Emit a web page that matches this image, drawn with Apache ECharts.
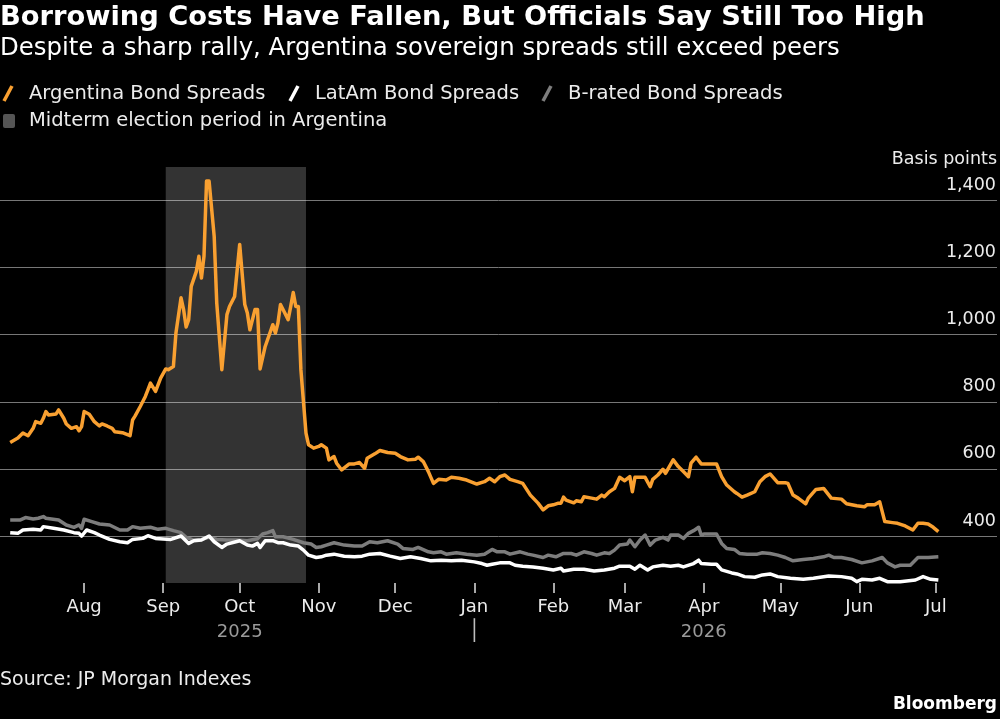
<!DOCTYPE html>
<html><head><meta charset="utf-8">
<script src="https://cdn.jsdelivr.net/npm/echarts@6/dist/echarts.min.js"></script>
<style>html,body{margin:0;padding:0;background:#000}#c{width:1000px;height:719px}</style>
</head><body><div id="c"></div>
<script>
// ---- data ----
const argDates = ['2025-07-03','2025-07-06','2025-07-08','2025-07-10','2025-07-12','2025-07-13','2025-07-15','2025-07-16','2025-07-17','2025-07-18','2025-07-21','2025-07-22','2025-07-24','2025-07-25','2025-07-27','2025-07-29','2025-07-30','2025-07-31',
'2025-08-01','2025-08-03','2025-08-05','2025-08-07','2025-08-08','2025-08-10','2025-08-12','2025-08-13','2025-08-16','2025-08-19','2025-08-20','2025-08-21','2025-08-23','2025-08-25','2025-08-26','2025-08-27','2025-08-29','2025-08-31',
'2025-09-02','2025-09-03','2025-09-05','2025-09-06','2025-09-08','2025-09-09','2025-09-10','2025-09-11','2025-09-12','2025-09-14','2025-09-15','2025-09-16','2025-09-17','2025-09-18','2025-09-19','2025-09-21','2025-09-22','2025-09-24','2025-09-26','2025-09-27','2025-09-29',
'2025-10-01','2025-10-03','2025-10-04','2025-10-05','2025-10-07','2025-10-08','2025-10-09','2025-10-11','2025-10-14','2025-10-15','2025-10-16','2025-10-17','2025-10-18','2025-10-20','2025-10-21','2025-10-22','2025-10-23','2025-10-24','2025-10-25','2025-10-27','2025-10-28','2025-10-30',
'2025-11-01','2025-11-02','2025-11-04','2025-11-05','2025-11-07','2025-11-08','2025-11-10','2025-11-13','2025-11-15','2025-11-17','2025-11-19','2025-11-20','2025-11-23','2025-11-25','2025-11-28',
'2025-12-01','2025-12-03','2025-12-06','2025-12-09','2025-12-10','2025-12-12','2025-12-14','2025-12-16','2025-12-18','2025-12-21','2025-12-23','2025-12-26','2025-12-29',
'2026-01-02','2026-01-05','2026-01-07','2026-01-09','2026-01-11','2026-01-13','2026-01-15','2026-01-18','2026-01-20','2026-01-23','2026-01-26','2026-01-28','2026-01-30',
'2026-02-01','2026-02-03','2026-02-04','2026-02-05','2026-02-06','2026-02-09','2026-02-10','2026-02-12','2026-02-13','2026-02-16','2026-02-18','2026-02-20','2026-02-21','2026-02-23','2026-02-25','2026-02-27',
'2026-03-01','2026-03-03','2026-03-04','2026-03-05','2026-03-07','2026-03-09','2026-03-11','2026-03-12','2026-03-14','2026-03-16','2026-03-17','2026-03-20','2026-03-22','2026-03-24','2026-03-26','2026-03-27','2026-03-29','2026-03-31',
'2026-04-01','2026-04-06','2026-04-08','2026-04-10','2026-04-13','2026-04-14','2026-04-16','2026-04-18','2026-04-21','2026-04-23','2026-04-25','2026-04-27','2026-04-30',
'2026-05-03','2026-05-04','2026-05-06','2026-05-08','2026-05-11','2026-05-12','2026-05-15','2026-05-18','2026-05-21','2026-05-25','2026-05-27','2026-05-31',
'2026-06-03','2026-06-04','2026-06-07','2026-06-09','2026-06-11','2026-06-14','2026-06-16','2026-06-19','2026-06-22','2026-06-24','2026-06-26','2026-06-28','2026-06-30','2026-07-02'];
const argValues = [679,692,707,699,721,741,736,751,771,761,764,776,751,734,721,726,714,726,
771,763,741,728,734,728,721,711,708,699,746,758,786,816,836,856,831,871,
898,896,905,1005,1110,1075,1023,1045,1144,1189,1234,1169,1234,1458,1458,1293,1095,896,1060,1084,1114,
1269,1090,1065,1015,1075,1075,898,965,1030,1005,1035,1090,1075,1045,1084,1126,1084,1084,896,707,672,662,
667,672,662,627,637,617,597,615,615,619,602,632,645,655,649,
647,637,627,629,635,622,592,557,569,567,575,572,567,
555,562,572,562,577,582,569,562,557,522,498,478,490,
493,498,498,516,507,499,505,502,517,513,510,522,517,532,542,575,
565,577,532,575,575,575,547,569,582,599,587,627,607,592,577,617,635,615,
615,615,577,552,532,527,516,522,532,562,577,585,559,
559,557,522,513,496,513,539,542,513,510,496,490,
487,493,493,502,443,440,438,430,418,438,438,436,426,413];

const latamDates = ['2025-07-03','2025-07-06','2025-07-08','2025-07-12','2025-07-15','2025-07-16','2025-07-20','2025-07-24','2025-07-28','2025-07-30','2025-07-31',
'2025-08-02','2025-08-05','2025-08-07','2025-08-11','2025-08-15','2025-08-18','2025-08-20','2025-08-24','2025-08-26','2025-08-29',
'2025-09-04','2025-09-08','2025-09-11','2025-09-13','2025-09-16','2025-09-19','2025-09-21','2025-09-24','2025-09-26',
'2025-10-01','2025-10-04','2025-10-06','2025-10-08','2025-10-09','2025-10-11','2025-10-14','2025-10-16','2025-10-18','2025-10-21','2025-10-24','2025-10-26','2025-10-28','2025-10-31',
'2025-11-02','2025-11-04','2025-11-07','2025-11-11','2025-11-15','2025-11-18','2025-11-21','2025-11-25','2025-11-29',
'2025-12-03','2025-12-07','2025-12-11','2025-12-15','2025-12-19','2025-12-23','2025-12-27',
'2026-01-01','2026-01-04','2026-01-06','2026-01-08','2026-01-11','2026-01-15','2026-01-17','2026-01-20','2026-01-24','2026-01-28',
'2026-02-01','2026-02-04','2026-02-05','2026-02-09','2026-02-13','2026-02-17','2026-02-21','2026-02-25','2026-02-27',
'2026-03-03','2026-03-05','2026-03-07','2026-03-10','2026-03-12','2026-03-16','2026-03-19','2026-03-22','2026-03-24','2026-03-28','2026-03-30','2026-03-31',
'2026-04-04','2026-04-06','2026-04-08','2026-04-12','2026-04-14','2026-04-17','2026-04-21','2026-04-24','2026-04-27','2026-04-30',
'2026-05-05','2026-05-10','2026-05-14','2026-05-20','2026-05-25','2026-05-29','2026-05-31',
'2026-06-02','2026-06-06','2026-06-09','2026-06-12','2026-06-17','2026-06-23','2026-06-26','2026-06-29','2026-07-02'];
const latamValues = [410,408,418,420,418,428,423,418,410,408,400,
418,410,403,390,383,380,390,393,401,393,
390,400,378,386,388,400,383,366,376,
386,373,370,378,366,386,386,380,380,373,370,358,343,336,
338,343,346,340,338,340,346,348,340,
333,338,333,326,328,326,328,
323,318,313,316,320,320,313,310,308,304,
299,304,296,301,301,296,299,304,310,
310,301,313,299,308,313,310,313,308,318,328,318,
316,316,299,290,287,279,277,284,287,279,
274,271,274,281,279,274,264,
271,269,274,264,264,269,279,271,269];

const bDates = ['2025-07-03','2025-07-07','2025-07-09','2025-07-12','2025-07-14','2025-07-16','2025-07-17','2025-07-22','2025-07-25','2025-07-28','2025-07-30','2025-07-31',
'2025-08-01','2025-08-04','2025-08-07','2025-08-11','2025-08-15','2025-08-18','2025-08-20','2025-08-23','2025-08-27','2025-08-30',
'2025-09-02','2025-09-05','2025-09-08','2025-09-10','2025-09-13','2025-09-16','2025-09-19','2025-09-22','2025-09-26','2025-09-30',
'2025-10-04','2025-10-08','2025-10-10','2025-10-12','2025-10-14','2025-10-15','2025-10-18','2025-10-22','2025-10-26','2025-10-29','2025-10-31',
'2025-11-02','2025-11-04','2025-11-07','2025-11-11','2025-11-15','2025-11-18','2025-11-21','2025-11-24','2025-11-28',
'2025-12-02','2025-12-04','2025-12-08','2025-12-10','2025-12-14','2025-12-16','2025-12-19','2025-12-21','2025-12-25','2025-12-29',
'2026-01-02','2026-01-05','2026-01-08','2026-01-10','2026-01-13','2026-01-15','2026-01-19','2026-01-22','2026-01-24','2026-01-28','2026-01-30',
'2026-02-02','2026-02-05','2026-02-08','2026-02-10','2026-02-13','2026-02-16','2026-02-18','2026-02-21','2026-02-23','2026-02-25','2026-02-27',
'2026-03-02','2026-03-03','2026-03-05','2026-03-07','2026-03-09','2026-03-11','2026-03-13','2026-03-16','2026-03-18','2026-03-19','2026-03-22','2026-03-24','2026-03-26','2026-03-28','2026-03-30','2026-03-31',
'2026-04-01','2026-04-06','2026-04-08','2026-04-10','2026-04-13','2026-04-15','2026-04-18','2026-04-22','2026-04-24','2026-04-27','2026-04-30',
'2026-05-03','2026-05-06','2026-05-10','2026-05-14','2026-05-18','2026-05-20','2026-05-22','2026-05-25','2026-05-29',
'2026-06-02','2026-06-06','2026-06-10','2026-06-12','2026-06-15','2026-06-17','2026-06-21','2026-06-24','2026-06-28','2026-07-02'];
const bValues = [448,448,455,451,453,458,453,448,433,426,433,423,
450,443,436,433,418,418,428,423,426,420,
423,416,410,396,388,390,396,390,388,388,
386,392,406,410,416,398,398,390,380,376,366,
368,373,380,373,370,370,383,380,386,
376,363,360,366,353,350,353,346,350,346,
343,346,360,353,353,346,353,346,343,336,343,
338,348,348,343,353,348,343,350,348,358,373,
376,388,368,388,403,373,388,396,388,403,403,393,408,416,426,403,
406,406,378,363,360,348,346,346,350,348,343,
336,326,330,333,338,343,336,336,330,
320,326,336,320,308,313,313,336,336,338];

const electionPeriod = ['2025-09-02', '2025-10-27'];
const monthTicks = ['2025-08-01','2025-09-01','2025-10-01','2025-11-01','2025-12-01','2026-01-01','2026-02-01','2026-03-01','2026-04-01','2026-05-01','2026-06-01','2026-07-01'];
const monthNames = ['Jan','Feb','Mar','Apr','May','Jun','Jul','Aug','Sep','Oct','Nov','Dec'];
const yTicks = [400, 600, 800, 1000, 1200, 1400];
const seriesNames = ['Argentina Bond Spreads', 'LatAm Bond Spreads', 'B-rated Bond Spreads'];
const shadeName = 'Midterm election period in Argentina';

// ---- chart ----
const FONT = 'DejaVu Sans';
const ORANGE = '#f9a031', WHITE = '#ffffff', GRAY = '#7d7d7d';
const pd = s => echarts.number.parseDate(s).getTime();
const zip = (d, v) => d.map((x, i) => [pd(x), v[i]]);
const monthTickVals = monthTicks.map(pd);

const chart = echarts.init(document.getElementById('c'), null, {renderer: 'canvas'});
chart.setOption({
  backgroundColor: '#000',
  animation: false,
  grid: {left: 0, right: 3, top: 167, bottom: 136, containLabel: false},
  xAxis: {
    type: 'value',
    min: pd('2025-06-29'), max: pd('2026-07-25'),
    axisLine: {show: false},
    splitLine: {show: false},
    axisTick: {show: true, customValues: monthTickVals, length: 10, lineStyle: {color: '#e0e0e0', width: 1.5}},
    axisLabel: {
      customValues: monthTickVals,
      margin: 12,
      formatter: function (v) {
        const d = new Date(v);
        const m = monthNames[d.getMonth()];
        if (m === 'Oct') return '{m|Oct}\n{y|2025}';
        if (m === 'Apr') return '{m|Apr}\n{y|2026}';
        if (m === 'Jan') return '{m|Jan}\n{s|\u2502}';
        return '{m|' + m + '}';
      },
      rich: {
        m: {color: '#ececec', fontSize: 18, fontFamily: FONT, lineHeight: 24},
        y: {color: '#9a9a9a', fontSize: 18, fontFamily: FONT, lineHeight: 26},
        s: {color: '#bdbdbd', fontSize: 20, fontFamily: FONT, lineHeight: 26}
      }
    }
  },
  yAxis: {
    type: 'value',
    position: 'right',
    min: 260, max: 1500,
    name: 'Basis points',
    nameLocation: 'end',
    nameGap: 8,
    nameTextStyle: {color: '#ececec', fontSize: 17.5, fontFamily: FONT, align: 'right', verticalAlign: 'middle'},
    axisLine: {show: false},
    axisTick: {show: false, customValues: yTicks},
    axisLabel: {
      customValues: yTicks,
      inside: true,
      margin: 1,
      color: '#ececec', fontSize: 17.5, fontFamily: FONT,
      verticalAlign: 'bottom',
      padding: [0, 0, 6, 0],
      formatter: v => v.toLocaleString('en-US')
    },
    splitLine: {show: true, lineStyle: {color: '#777', width: 1}}
  },
  series: [
    {
      name: seriesNames[2], type: 'line', data: zip(bDates, bValues), showSymbol: false, z: 2,
      lineStyle: {color: GRAY, width: 3.5, join: 'round'},
      markArea: {
        silent: true,
        itemStyle: {color: 'rgba(255,255,255,0.2)'},
        data: [[{xAxis: pd(electionPeriod[0])}, {xAxis: pd(electionPeriod[1])}]]
      }
    },
    {name: seriesNames[1], type: 'line', data: zip(latamDates, latamValues), showSymbol: false, z: 3,
      lineStyle: {color: WHITE, width: 3.5, join: 'round'}},
    {name: seriesNames[0], type: 'line', data: zip(argDates, argValues), showSymbol: false, z: 4,
      lineStyle: {color: ORANGE, width: 3.5, join: 'round'}}
  ],
  graphic: [
    {type: 'text', left: 0, top: 4, style: {text: 'Borrowing Costs Have Fallen, But Officials Say Still Too High', fill: '#fff', font: 'bold 27.3px "' + FONT + '"'}},
    {type: 'text', left: 0, top: 37, style: {text: 'Despite a sharp rally, Argentina sovereign spreads still exceed peers', fill: '#fff', font: '24.4px "' + FONT + '"'}},
    {type: 'line', shape: {x1: 4, y1: 101, x2: 12, y2: 86}, style: {stroke: ORANGE, lineWidth: 3.5}},
    {type: 'text', x: 29, y: 94, style: {text: seriesNames[0], fill: '#ececec', font: '19.5px "' + FONT + '"', verticalAlign: 'middle'}},
    {type: 'line', shape: {x1: 290, y1: 101, x2: 298, y2: 86}, style: {stroke: WHITE, lineWidth: 3.5}},
    {type: 'text', x: 315, y: 94, style: {text: seriesNames[1], fill: '#ececec', font: '19.5px "' + FONT + '"', verticalAlign: 'middle'}},
    {type: 'line', shape: {x1: 543, y1: 101, x2: 551, y2: 86}, style: {stroke: GRAY, lineWidth: 3.5}},
    {type: 'text', x: 568, y: 94, style: {text: seriesNames[2], fill: '#ececec', font: '19.6px "' + FONT + '"', verticalAlign: 'middle'}},
    {type: 'rect', shape: {x: 3, y: 114, width: 12, height: 14, r: 2}, style: {fill: '#555'}},
    {type: 'text', x: 29, y: 121, style: {text: shadeName, fill: '#ececec', font: '19.5px "' + FONT + '"', verticalAlign: 'middle'}},
    {type: 'text', x: 0, y: 680, style: {text: 'Source: JP Morgan Indexes', fill: '#ececec', font: '19px "' + FONT + '"', verticalAlign: 'middle'}},
    {type: 'text', x: 997, y: 705, style: {text: 'Bloomberg', fill: '#fff', font: 'bold 17px "' + FONT + '"', verticalAlign: 'middle', align: 'right'}}
  ]
});
</script>
</body></html>
